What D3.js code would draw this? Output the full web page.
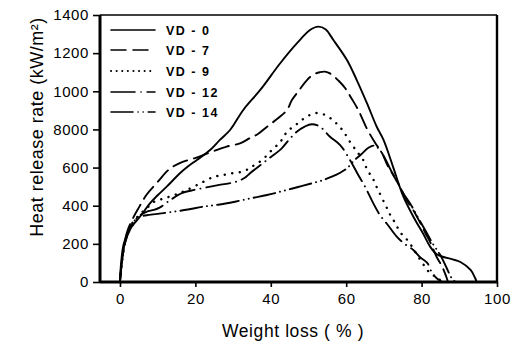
<!DOCTYPE html>
<html><head><meta charset="utf-8">
<script src="https://cdn.jsdelivr.net/npm/d3@7"></script>
<style>
body{margin:0;background:#fff;}
svg{display:block;}
text{font-family:"Liberation Sans",Arial,Helvetica,sans-serif;fill:#000;}
</style></head>
<body><svg id="c" width="518" height="345"></svg>
<script>
const xTicks = [0, 20, 40, 60, 80, 100];
const yTicks = [0, 200, 400, 600, 800, 1000, 1200, 1400];
const yTickLabels = ["0", "200", "400", "600", "8000", "1000", "1200", "1400"];
const seriesNames = ["VD - 0", "VD - 7", "VD - 9", "VD - 12", "VD - 14"];

const vd0 = [[0,0],[0.3,100],[1,200],[2.5,275],[3.5,300],[5.3,342],[8,413],[10,455],[12.4,500],[15.9,570],[18,605],[20.4,640],[23.9,692],[26.5,745],[29.2,797],[32.7,902],[37.2,1007],[42.5,1147],[46.9,1251],[50.4,1321],[52.6,1339],[54.5,1325],[56.6,1269],[60.2,1164],[62.8,1059],[65.5,938],[68.1,814],[69.9,745],[72.5,600],[75.2,446],[78.3,325],[80.5,250],[82.3,184],[84,145],[85.8,131],[88,120],[90.3,105],[93,63],[94.2,21],[94.6,0]];
const vd7 = [[0,0],[0.5,100],[1.8,257],[3.2,325],[5,390],[7,456],[10,525],[13,590],[16,625],[19.9,650],[24,680],[28.3,710],[32,728],[34.5,755],[36.6,776],[39,814],[42,860],[44.3,902],[45.6,954],[47.5,1005],[49.6,1059],[51.3,1088],[53,1100],[54.4,1103],[56,1090],[58,1055],[59.7,1017],[61.5,960],[63.2,902],[65.6,800],[67.7,729],[69.5,676],[71,610],[72.5,560],[74.5,490],[76,430],[77.8,377],[79.5,315],[81,257],[82.5,200],[84,131],[85.5,79],[86.5,30],[87,0]];
const vd9 = [[0,0],[0.5,100],[1.5,220],[3,300],[5,350],[7,385],[9,420],[12,440],[15,460],[18,485],[22,524],[24.7,550],[27.4,561],[30,571],[32.7,580],[35,605],[37.7,640],[40.3,692],[42.5,734],[44.3,787],[47,830],[49,860],[51.8,886],[54.5,875],[57,839],[59,797],[61,735],[63,680],[64.5,640],[65.6,587],[67,545],[68.2,493],[70.4,404],[71.7,351],[73,309],[74.3,262],[76.2,220],[77.5,184],[78.8,142],[80.2,100],[81.5,63],[82.8,37],[84.4,26],[85,0]];
const vd12 = [[0,0],[1,180],[3,290],[5,345],[7,368],[9,378],[10.5,390],[13,425],[16.4,466],[19,480],[21.7,491],[26,508],[30.5,524],[33,545],[34.5,570],[39,640],[42.9,701],[45,750],[46.9,788],[49,815],[50.9,827],[53,815],[55.7,762],[58.4,718],[61,640],[63.2,561],[65,500],[67,420],[69,350],[71,300],[73.4,238],[75.5,200],[77.8,168],[79.6,130],[81.5,100],[82.8,47],[84,20],[85.5,0]];
const vd14 = [[0,0],[0.5,100],[1.5,220],[3,300],[5,340],[7,350],[10,357],[14,368],[18,380],[22,395],[26,405],[30.5,421],[35,440],[39,456],[43,476],[47,497],[51,518],[54,535],[56.2,552],[58.4,573],[60.2,596],[62,635],[64,670],[66,705],[67.5,715],[69,690],[70.5,640],[72,580],[73.5,530],[75,470],[77,410],[79,340],[81,270],[83,200],[85,140],[86.5,80],[88,20],[89,0]];
const allSeries = [vd0, vd7, vd9, vd12, vd14];
const dashes = [null, "15,7", "0.1,7.5", "24,6,0.1,6", "22,5,0.1,5,0.1,5"];

const svg = d3.select("#c");
const x = d3.scaleLinear().domain([-5.3, 100]).range([100, 497]);
const y = d3.scaleLinear().domain([0, 1400]).range([282, 15]);

// frame
svg.append("line").attr("x1",100).attr("x2",497).attr("y1",15).attr("y2",15).attr("stroke","#000").attr("stroke-width",1.6);
svg.append("line").attr("x1",497).attr("x2",497).attr("y1",15).attr("y2",282).attr("stroke","#000").attr("stroke-width",2.4);

// axes
const xAxis = d3.axisBottom(x).tickValues(xTicks).tickSize(5).tickSizeOuter(0).tickPadding(6);
const gx = svg.append("g").attr("transform","translate(0,282)").call(xAxis);
gx.select(".domain").attr("stroke-width",3).attr("d","M100,0H497");
gx.selectAll(".tick line").attr("stroke-width",1.6);
gx.selectAll(".tick text").style("font-size","15px").style("letter-spacing","0.6px").attr("font-family",null);

const yAxis = d3.axisLeft(y).tickValues(yTicks).tickFormat((d,i)=>yTickLabels[i]).tickSize(7).tickSizeOuter(0).tickPadding(4);
const gy = svg.append("g").attr("transform","translate(100,0)").call(yAxis);
gy.select(".domain").attr("stroke-width",3).attr("d","M0,282V15");
gy.selectAll(".tick line").attr("stroke-width",1.6);
gy.selectAll(".tick text").style("font-size","15px").style("letter-spacing","0.6px").attr("font-family",null);

// curves
const line = d3.line().x(d=>x(d[0])).y(d=>y(d[1])).curve(d3.curveCatmullRom.alpha(0.5));
allSeries.forEach((s,i)=>{
  const p = svg.append("path").attr("d", line(s)).attr("fill","none").attr("stroke","#000")
    .attr("stroke-width", i===2 ? 2.4 : 1.9).attr("stroke-linecap","round").attr("stroke-linejoin","round");
  if (dashes[i]) p.attr("stroke-dasharray", dashes[i]);
});

// legend
const legY = [30, 50, 71, 92, 112];
seriesNames.forEach((n,i)=>{
  const l = svg.append("line").attr("x1",111).attr("x2",155).attr("y1",legY[i]).attr("y2",legY[i])
    .attr("stroke","#000").attr("stroke-width", i===2 ? 2 : 1.6).attr("stroke-linecap","round");
  if (dashes[i]) l.attr("stroke-dasharray", i===2 ? "0.1,5.5" : dashes[i]);
  svg.append("text").attr("x",166).attr("y",legY[i]+4.5).text(n)
    .style("font-size","12.5px").style("font-weight","bold").style("letter-spacing","1.5px");
});

// titles
svg.append("text").attr("x",293).attr("y",337).attr("text-anchor","middle")
  .style("font-size","17.5px").style("letter-spacing","0.6px").text("Weight loss ( % )");
svg.append("text").attr("transform","translate(43,127) rotate(-90)").attr("text-anchor","middle")
  .style("font-size","18px").style("letter-spacing","0.5px").text("Heat release rate (kW/m²)");
</script></body></html>
